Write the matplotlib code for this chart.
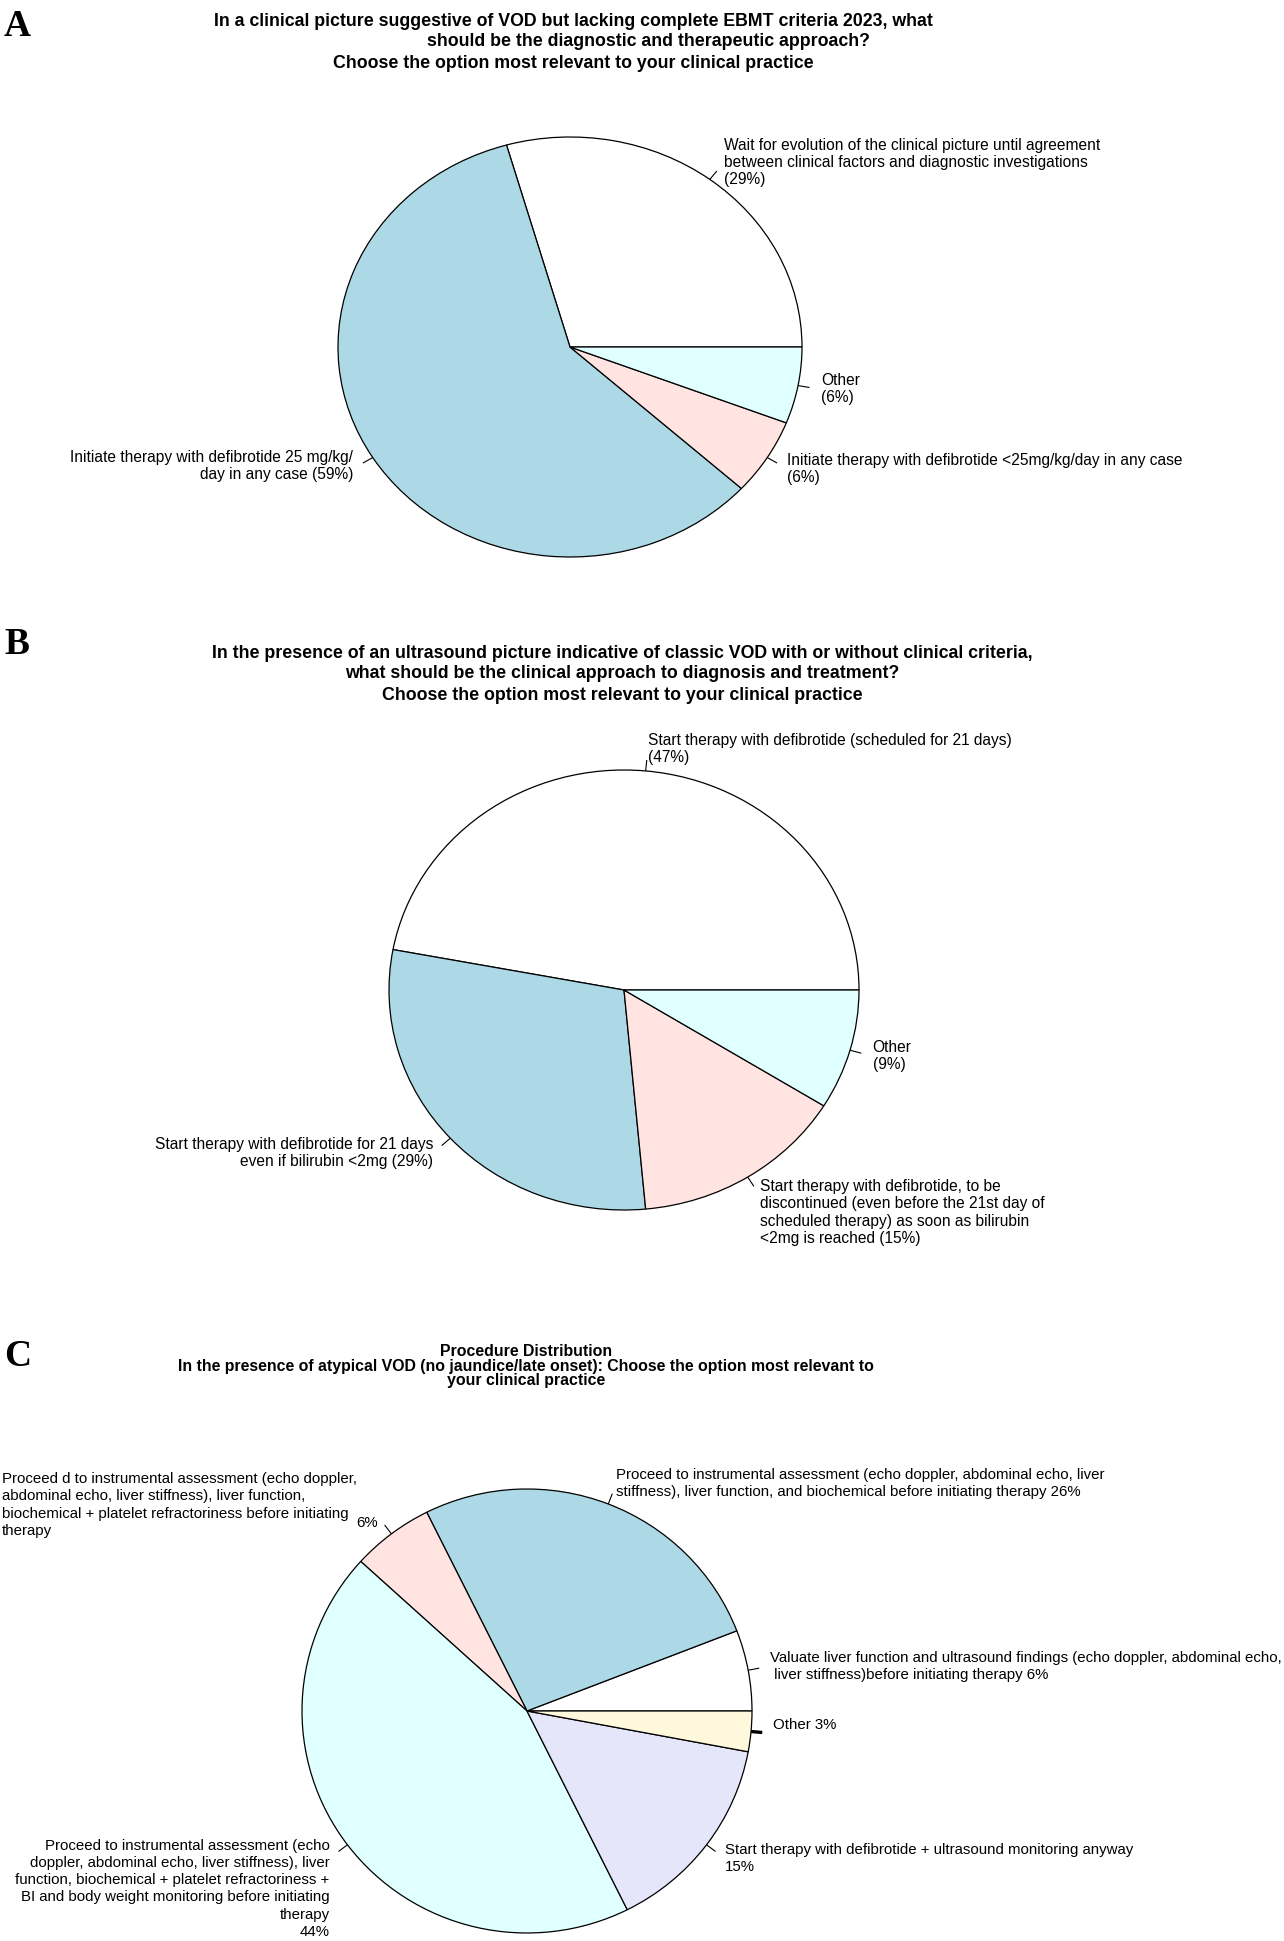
import numpy as np
import matplotlib
matplotlib.use("Agg")
import matplotlib.pyplot as plt
from matplotlib.transforms import offset_copy

# ---------------- data ----------------
A_counts = [10, 20, 2, 2]
A_labels = [
    "Wait for evolution of the clinical picture until agreement\nbetween clinical factors and diagnostic investigations\n(29%)",
    "Initiate therapy with defibrotide 25 mg/kg/\nday in any case (59%)",
    "Initiate therapy with defibrotide <25mg/kg/day in any case\n(6%)",
    "Other\n(6%)",
]
A_title = [
    "In a clinical picture suggestive of VOD but lacking complete EBMT criteria 2023, what",
    "should be the diagnostic and therapeutic approach?",
    "Choose the option most relevant to your clinical practice",
]

B_counts = [16, 10, 5, 3]
B_labels = [
    "Start therapy with defibrotide (scheduled for 21 days)\n(47%)",
    "Start therapy with defibrotide for 21 days\neven if bilirubin <2mg (29%)",
    "Start therapy with defibrotide, to be\ndiscontinued (even before the 21st day of\nscheduled therapy) as soon as bilirubin\n<2mg is reached (15%)",
    "Other\n(9%)",
]
B_title = [
    "In the presence of an ultrasound picture indicative of classic VOD with or without clinical criteria,",
    "what should be the clinical approach to diagnosis and treatment?",
    "Choose the option most relevant to your clinical practice",
]

C_counts = [2, 9, 2, 15, 5, 1]
C_labels = [
    "Valuate liver function and ultrasound findings (echo doppler, abdominal echo,\n liver stiffness)before initiating therapy 6%",
    "Proceed to instrumental assessment (echo doppler, abdominal echo, liver\nstiffness), liver function, and biochemical before initiating therapy 26%",
    "6%",
    "Proceed to instrumental assessment (echo\ndoppler, abdominal echo, liver stiffness), liver\nfunction, biochemical + platelet refractoriness +\nBI and body weight monitoring before initiating\ntherapy\n44%",
    "Start therapy with defibrotide + ultrasound monitoring anyway\n15%",
    "Other 3%",
]
C_note = ("Proceed d to instrumental assessment (echo doppler,\nabdominal echo, liver stiffness), liver function,\n"
          "biochemical + platelet refractoriness before initiating\ntherapy")
C_title = [
    "Procedure Distribution",
    "In the presence of atypical VOD (no jaundice/late onset): Choose the option most relevant to",
    "your clinical practice",
]

R_COLORS = ["white", "lightblue", "mistyrose", "lightcyan", "lavender", "cornsilk"]

# ---------------- figure ----------------
W, H = 1284, 1941
DPI = 100
fig = plt.figure(figsize=(W / DPI, H / DPI), dpi=DPI)
fig.patch.set_facecolor("white")

SANS = ["Liberation Sans", "DejaVu Sans"]
SERIF = ["Liberation Serif", "DejaVu Serif"]


def fx(x):
    return x / W


def fy(y):
    return 1 - y / H


def draw_pie(counts, labels, cx, cy, rx, ry, fs, ls, dys, thick_last=False):
    ax = fig.add_axes([fx(cx - rx), fy(cy + ry), 2 * rx / W, 2 * ry / H])
    ax.pie(counts, colors=R_COLORS[:len(counts)], startangle=0,
           counterclock=True, radius=1.0,
           wedgeprops=dict(edgecolor="black", linewidth=0.9))
    ax.set_aspect("auto")
    ax.set_xlim(-1, 1)
    ax.set_ylim(-1, 1)
    ax.axis("off")
    total = float(sum(counts))
    cum = np.cumsum([0] + list(counts)) / total * 360.0
    for i, lab in enumerate(labels):
        mid = np.deg2rad((cum[i] + cum[i + 1]) / 2.0)
        c, s = np.cos(mid), np.sin(mid)
        lw = 2.4 if (thick_last and i == len(labels) - 1) else 0.8
        ax.plot([c, 1.05 * c], [s, 1.05 * s], color="black", lw=lw,
                clip_on=False, solid_capstyle="butt")
        tr = offset_copy(ax.transData, fig=fig, x=0, y=dys[i], units="points")
        ax.text(1.1 * c, 1.1 * s, lab, transform=tr,
                ha="left" if c >= 0 else "right", va="center",
                fontsize=fs, family=SANS, linespacing=ls, clip_on=False)
    return ax


def title_lines(lines, ys, xs, fs):
    for t, y, x in zip(lines, ys, xs):
        fig.text(fx(x), fy(y), t, ha="center", va="center", fontsize=fs,
                 fontweight="bold", family=SANS)


# Panel letters
for letter, y in zip(["A", "B", "C"], [27, 645, 1357]):
    fig.text(fx(4), fy(y), letter, ha="left", va="center", fontsize=27,
             fontweight="bold", family=SERIF)

# Panel A
title_lines(A_title, [22, 42, 63], [573, 648, 573], 12.8)
draw_pie(A_counts, A_labels, 570, 347, 232, 210, 11.2, 1.17, [0, 2, 0, 0])

# Panel B
title_lines(B_title, [653, 674, 695], [622, 622, 622], 12.8)
draw_pie(B_counts, B_labels, 624, 990, 235, 220, 11.2, 1.2, [0, 0, -12, 0])

# Panel C
title_lines(C_title, [1351, 1366, 1381], [526, 526, 526], 11.4)
draw_pie(C_counts, C_labels, 527, 1711, 225, 222, 10.8, 1.29,
         [0, 0, -5, -22, 0, 6], thick_last=True)
fig.text(fx(2), fy(1505), C_note, ha="left", va="center", fontsize=10.8,
         family=SANS, linespacing=1.29)

fig.savefig("out.png", dpi=DPI, facecolor="white")
